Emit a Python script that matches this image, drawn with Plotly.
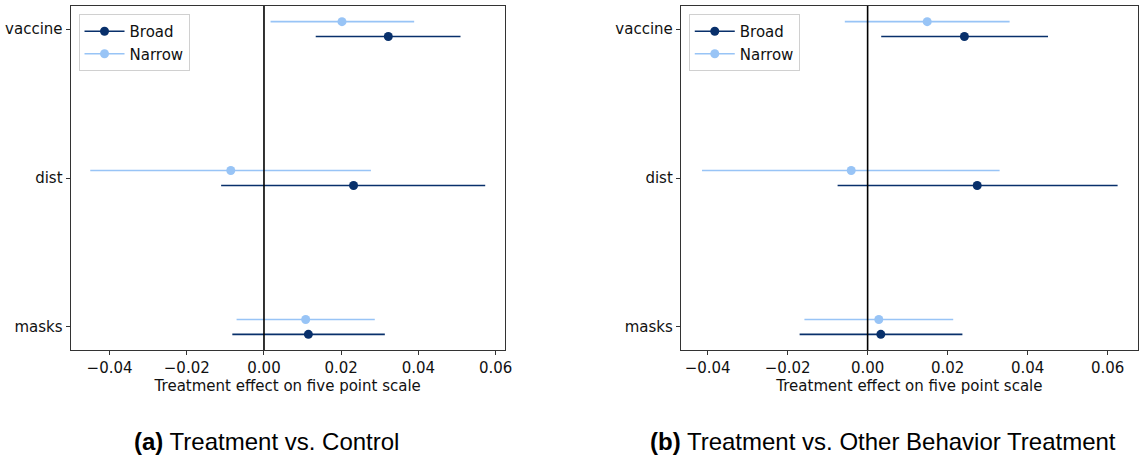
import plotly.graph_objects as go

# ---- data ----
categories = ["masks", "dist", "vaccine"]
series_names = ["Broad", "Narrow"]

# Panel (a): Treatment vs. Control
a_broad = [0.0115, 0.0232, 0.0322]
a_broad_lo = [-0.0082, -0.0111, 0.0134]
a_broad_hi = [0.0313, 0.0573, 0.0509]
a_narrow = [0.0108, -0.0086, 0.0202]
a_narrow_lo = [-0.0071, -0.0450, 0.0017]
a_narrow_hi = [0.0287, 0.0277, 0.0389]

# Panel (b): Treatment vs. Other Behavior Treatment
b_broad = [0.0033, 0.0274, 0.0242]
b_broad_lo = [-0.0170, -0.0075, 0.0034]
b_broad_hi = [0.0237, 0.0625, 0.0451]
b_narrow = [0.0028, -0.0041, 0.0149]
b_narrow_lo = [-0.0158, -0.0414, -0.0057]
b_narrow_hi = [0.0214, 0.0330, 0.0355]

xtick_vals = [-0.04, -0.02, 0.00, 0.02, 0.04, 0.06]
captions = ["<b>(a)</b> Treatment vs. Control",
            "<b>(b)</b> Treatment vs. Other Behavior Treatment"]
x_title = "Treatment effect on five point scale"

# ---- style ----
C_BROAD = "#08306b"
C_NARROW = "#98c4f6"
OFFSET = 0.05
W, H = 1146, 458
FONT = "DejaVu Sans"

fig = go.Figure()

def add_panel(xa, ya, legend, broad, blo, bhi, narrow, nlo, nhi):
    ypos = list(range(len(categories)))
    for name, vals, lo, hi, col, off in [
        ("Broad", broad, blo, bhi, C_BROAD, -OFFSET),
        ("Narrow", narrow, nlo, nhi, C_NARROW, OFFSET),
    ]:
        fig.add_trace(go.Scatter(
            x=vals, y=[p + off for p in ypos], mode="markers",
            marker=dict(color=col, size=9),
            error_x=dict(type="data", symmetric=False,
                         array=[h - v for h, v in zip(hi, vals)],
                         arrayminus=[v - l for l, v in zip(lo, vals)],
                         color=col, thickness=1.6, width=0),
            xaxis=xa, yaxis=ya, showlegend=False, name=name))
        fig.add_trace(go.Scatter(
            x=[None], y=[None], mode="lines+markers", name=name,
            marker=dict(color=col, size=9), line=dict(color=col, width=1.6),
            xaxis=xa, yaxis=ya, legend=legend))

add_panel("x", "y", "legend", a_broad, a_broad_lo, a_broad_hi,
          a_narrow, a_narrow_lo, a_narrow_hi)
add_panel("x2", "y2", "legend2", b_broad, b_broad_lo, b_broad_hi,
          b_narrow, b_narrow_lo, b_narrow_hi)

axis_common = dict(showline=True, linecolor="#333", linewidth=1, mirror=True,
                   ticks="outside", ticklen=4, tickcolor="#333", showgrid=False,
                   zeroline=False, tickfont=dict(family=FONT, size=15, color="#111"))

legend_common = dict(xanchor="left", yanchor="top", bgcolor="white",
                     bordercolor="#d0d0d0", borderwidth=1, itemwidth=40,
                     font=dict(family=FONT, size=15, color="#111"), tracegroupgap=0)

fig.update_layout(
    width=W, height=H, paper_bgcolor="white", plot_bgcolor="white",
    margin=dict(l=0, r=0, t=0, b=0),
    font=dict(family=FONT, size=15, color="#111"),
    xaxis=dict(domain=[71 / W, 508 / W], range=[-0.0501, 0.0624],
               tickvals=xtick_vals, tickformat=".2f",
               title=dict(text=x_title, standoff=4, font=dict(family=FONT, size=15)),
               anchor="y", **axis_common),
    yaxis=dict(domain=[1 - 350 / H, 1 - 6 / H], range=[-0.155, 2.155],
               tickvals=list(range(len(categories))), ticktext=categories,
               anchor="x", **axis_common),
    xaxis2=dict(domain=[685 / W, 1145 / W], range=[-0.0467, 0.0676],
                tickvals=xtick_vals, tickformat=".2f",
                title=dict(text=x_title, standoff=4, font=dict(family=FONT, size=15)),
                anchor="y2", **axis_common),
    yaxis2=dict(domain=[1 - 350 / H, 1 - 6 / H], range=[-0.155, 2.155],
                tickvals=list(range(len(categories))), ticktext=categories,
                anchor="x2", **axis_common),
    legend=dict(x=79 / W, y=1 - 14 / H, **legend_common),
    legend2=dict(x=693 / W, y=1 - 14 / H, **legend_common),
)

for xr in ["x", "x2"]:
    fig.add_shape(type="line", xref=xr, yref=("y domain" if xr == "x" else "y2 domain"),
                  x0=0, x1=0, y0=0, y1=1, line=dict(color="black", width=1.6))

for cap, cx in zip(captions, [268, 888]):
    fig.add_annotation(text=cap, x=cx / W, y=1 - 441 / H, xref="paper", yref="paper",
                       xanchor="center", yanchor="middle", showarrow=False,
                       font=dict(family="Liberation Sans", size=24, color="black"))

fig.write_html("out.html", config={"displayModeBar": False},
               post_script="document.body.style.margin='0';document.body.style.overflow='hidden';")
